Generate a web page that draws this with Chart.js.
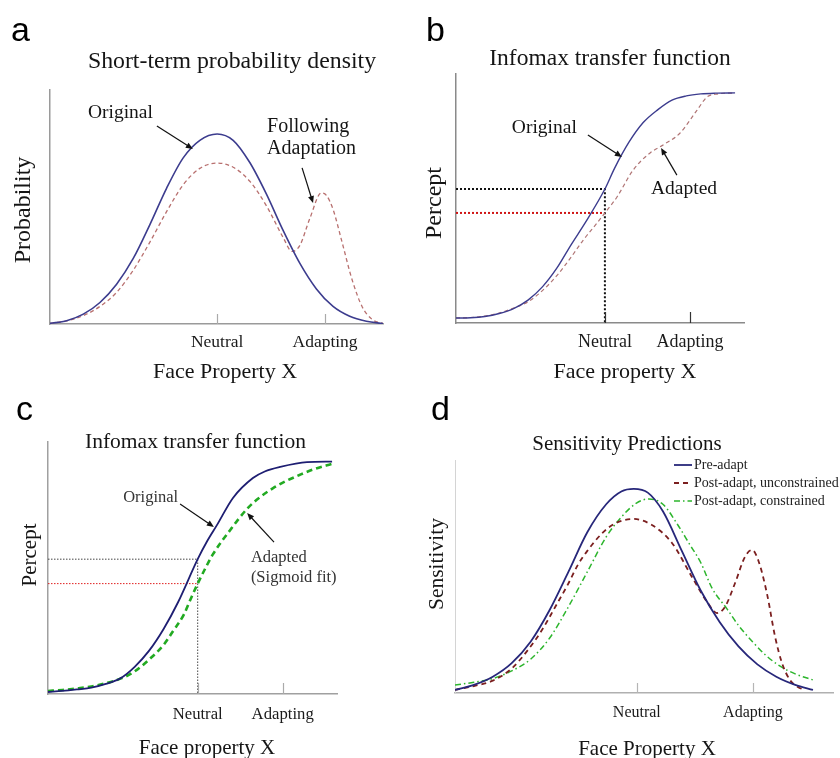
<!DOCTYPE html>
<html><head><meta charset="utf-8">
<script src="https://cdn.jsdelivr.net/npm/chart.js@4.4.1/dist/chart.umd.min.js"></script>
<style>
html,body{margin:0;padding:0;background:#fff;}
#wrap{position:relative;width:840px;height:758px;overflow:hidden;background:#fff;}
canvas{position:absolute;}
</style></head><body>
<div id="wrap">
<canvas id="pa" style="left:0;top:0" width="420" height="400"></canvas>
<canvas id="pb" style="left:420px;top:0" width="420" height="400"></canvas>
<canvas id="pc" style="left:0;top:380px" width="420" height="378"></canvas>
<canvas id="pd" style="left:420px;top:380px" width="420" height="378"></canvas>
</div>
<script>
// ---------- tick labels ----------
const tickNames = ['Neutral', 'Adapting'];

// ---------- panel a : short-term probability density ----------
const aTicks = [50.2, 82.6];
const aOriginalX = [0,5,10,15,20,25,30,35,40,45,50.2,55,60,65,70,75,80,85,90,95,100];
const aOriginalY = [0.3,1.4,4.2,9.2,17,28,42.5,58,71,78.5,81.2,78.5,69,55.5,40,26,15,7.5,3.3,1.2,0.2];
const aAdaptedX = [0,5,10,15,20,25,30,35,40,45,50.2,55,60,65,70,72.7,75,78,81.5,83,85,87.7,90.7,93.7,96.7,100];
const aAdaptedY = [0.3,1.3,3.6,7.5,13.5,23,35,48,59.5,66.5,68.8,67,61,50.5,37,31,33.5,45,56,55,49,35,19,7.5,2,0.2];

// ---------- panel b : infomax transfer function ----------
const bTicks = [51.7, 81.25];
const bOriginalX = [0,5,10,15,20,25,30,35,40,45,51.7,55,60,65,70,75,80,85,90,96.9];
const bOriginalY = [2,2.1,2.6,3.8,5.8,9.2,14.5,22,31.5,40.5,53.8,62,72.5,80.5,85.6,89.5,91.2,92,92.3,92.4];
const bAdaptedX = [0,5,10,15,20,25,30,35,40,44,49,51.7,55.9,61.5,67.4,71.9,77.8,83.7,87.2,91,96.9];
const bAdaptedY = [2,2.2,2.8,4,6,8.5,13,19,26.5,33,40.2,44.2,50.6,61.4,68.3,71.5,76.3,85.5,90.8,92,92.4];
const bNeutralPercept = [53.8, 44.2]; // original, adapted

// ---------- panel c : infomax transfer function (sigmoid fit) ----------
const cTicks = [51.8, 81.2];
const cOriginalX = [0,5,10,15,20,25,30,35,40,45,51.8,55,58.5,64,70.9,75,80.3,89.6,98.3];
const cOriginalY = [0.8,1.2,1.8,2.5,4,6.2,10.8,17.2,25.8,36.4,53.5,60.5,67.1,77.8,85.7,88.3,90.1,92,92.2];
const cAdaptedX = [0,5,10,15,20,26,30,35.3,40,43.3,47,49.1,51.8,54.5,57.1,63,68.9,73,77.9,82,87.2,92,98.3];
const cAdaptedY = [1.2,1.6,2.2,3,4.3,6.5,9,14,19.5,25,31.5,37,43.8,50,55.5,65,73.5,77.8,81.7,84.3,87,89.2,91.3];
const cNeutralPercept = [53.5, 43.8];

// ---------- panel d : sensitivity predictions ----------
const dTicks = [48.1, 78.8];
const dSeriesNames = ['Pre-adapt', 'Post-adapt, unconstrained', 'Post-adapt, constrained'];
const dPreX = [0,5,10,15,20,25,30,35,40,44,47.3,51,55,60,65,70,75,80,85,90,94.7];
const dPreY = [1.3,3.5,7,12.8,22,35.5,52,69,81,86.5,87.6,86,78,61,44,30.5,20,12.3,7,3.5,1.3];
const dUnconX = [0,5,10,15,19.3,23,26.5,30,32.5,35,38.9,42,47.1,52.1,57.4,62.7,66.9,69.3,71.4,74.1,76.7,78.6,80.2,82.5,84.7,86.5,88.6,90.7,92.5];
const dUnconY = [1.3,3,5.3,10.5,18.5,27,36.9,47,55,61,68.5,72.5,74.7,72.1,64.4,49.8,38.6,34.3,36.9,47.2,58.4,61.4,57.1,42.9,24,12.9,5.6,2.6,1.3];
const dConX = [0,5,10,15,20,25,30,35,40,44,48,51.3,55,59,62,65,68,72,75,79,82,86,90,94.7];
const dConY = [3.4,4.6,6.2,9.5,14.5,23.5,37,52,67,75.5,81.5,83.3,81,72,64,56,45,36,29,21.5,16.5,11.5,8.2,5.6];

// ---------- helpers ----------
const SERIF = '"Liberation Serif", "Times New Roman", serif';
const SANS = '"Liberation Sans", Arial, sans-serif';
const pts = (xs, ys) => xs.map((x, i) => ({x: x, y: ys[i]}));
const curve = (xs, ys, color, width, dash) => ({
  data: pts(xs, ys), borderColor: color, borderWidth: width, borderDash: dash || [],
  cubicInterpolationMode: 'monotone', pointRadius: 0, fill: false
});
const guide = (points, color, width, dash) => ({
  data: points, borderColor: color, borderWidth: width, borderDash: dash, tension: 0, pointRadius: 0, fill: false
});

const decor = {
  id: 'decor',
  afterDatasetsDraw(chart, args, o) {
    const ctx = chart.ctx, xs = chart.scales.x, ys = chart.scales.y, ca = chart.chartArea;
    const P = (x, y) => [xs.getPixelForValue(x), ys.getPixelForValue(y)];
    ctx.save();
    if (o.tickLen) {
      ctx.strokeStyle = o.tickColor; ctx.lineWidth = 1.2;
      xs.ticks.forEach(t => {
        const px = Math.round(xs.getPixelForValue(t.value)) + 0.5;
        ctx.beginPath(); ctx.moveTo(px, ca.bottom); ctx.lineTo(px, ca.bottom - o.tickLen); ctx.stroke();
      });
    }
    (o.arrows || []).forEach(a => {
      const [x1, y1] = P(a.from[0], a.from[1]);
      const [x2, y2] = P(a.to[0], a.to[1]);
      ctx.strokeStyle = '#111'; ctx.fillStyle = '#111'; ctx.lineWidth = 1.2;
      const ang = Math.atan2(y2 - y1, x2 - x1), L = 7, W = 3;
      ctx.beginPath(); ctx.moveTo(x1, y1); ctx.lineTo(x2 - 4 * Math.cos(ang), y2 - 4 * Math.sin(ang)); ctx.stroke();
      ctx.beginPath(); ctx.moveTo(x2, y2);
      ctx.lineTo(x2 - L * Math.cos(ang) + W * Math.sin(ang), y2 - L * Math.sin(ang) - W * Math.cos(ang));
      ctx.lineTo(x2 - L * Math.cos(ang) - W * Math.sin(ang), y2 - L * Math.sin(ang) + W * Math.cos(ang));
      ctx.closePath(); ctx.fill();
    });
    (o.texts || []).forEach(t => {
      let x = t.x, y = t.y;
      if (t.data) [x, y] = P(t.x, t.y);
      ctx.save(); ctx.translate(x, y); if (t.rot) ctx.rotate(t.rot);
      ctx.font = t.font; ctx.fillStyle = t.color || '#151515';
      ctx.textAlign = t.align || 'left'; ctx.textBaseline = t.base || 'alphabetic';
      ctx.fillText(t.text, 0, 0); ctx.restore();
    });
    if (o.legend) {
      const lg = o.legend;
      o.legend.items.forEach((idx, i) => {
        const ds = chart.data.datasets[idx];
        const y = lg.y + i * lg.step;
        ctx.strokeStyle = ds.borderColor; ctx.lineWidth = ds.borderWidth;
        ctx.setLineDash(ds.borderDash || []);
        ctx.beginPath(); ctx.moveTo(lg.x, y); ctx.lineTo(lg.x + lg.len, y); ctx.stroke();
        ctx.setLineDash([]);
        ctx.font = lg.font; ctx.fillStyle = '#222'; ctx.textAlign = 'left'; ctx.textBaseline = 'middle';
        ctx.fillText(ds.label, lg.x + lg.len + 2, y);
      });
    }
    ctx.restore();
  }
};

function makePanel(id, cfg) {
  return new Chart(document.getElementById(id), {
    type: 'line',
    data: { datasets: cfg.datasets },
    options: {
      responsive: false, devicePixelRatio: 1, animation: false, events: [],
      layout: { padding: cfg.pad },
      plugins: { legend: { display: false }, tooltip: { enabled: false }, title: { display: false }, decor: cfg.decor },
      scales: {
        x: {
          type: 'linear', min: 0, max: 100,
          afterFit: s => { s.height = cfg.xh; },
          afterBuildTicks: s => { s.ticks = cfg.ticks.map(v => ({value: v})); },
          grid: { display: false, drawTicks: false },
          border: { display: true, color: cfg.axisColor, width: 1.5 },
          ticks: { autoSkip: false, maxRotation: 0, padding: cfg.tickPad, color: '#1a1a1a',
                   font: { family: SERIF, size: cfg.tickSize }, callback: (v, i) => tickNames[i] }
        },
        y: {
          type: 'linear', min: 0, max: 100,
          afterFit: s => { s.width = 10; },
          grid: { display: false, drawTicks: false },
          border: { display: true, color: cfg.yAxisColor || cfg.axisColor, width: cfg.yAxisWidth || 1.5 },
          ticks: { display: false }
        }
      }
    },
    plugins: [decor]
  });
}

// ---------- panel a ----------
makePanel('pa', {
  pad: { left: 40, top: 90, right: 37, bottom: 0 }, xh: 76, ticks: aTicks, tickPad: 7.5, tickSize: 17.5,
  axisColor: '#9a9a9a',
  datasets: [
    curve(aOriginalX, aOriginalY, '#3c3c8e', 1.6),
    curve(aAdaptedX, aAdaptedY, '#b8706f', 1.3, [4, 3])
  ],
  decor: {
    tickLen: 10, tickColor: '#aaa',
    arrows: [ {from: [32.1, 84.6], to: [42.9, 74.8]}, {from: [75.7, 66.7], to: [79, 51.7]} ],
    texts: [
      {text: 'a', x: 11, y: 41, font: '34px ' + SANS, color: '#000'},
      {text: 'Short-term probability density', x: 232, y: 68, align: 'center', font: '23.8px ' + SERIF},
      {text: 'Probability', x: 24, y: 210, rot: -Math.PI / 2, align: 'center', base: 'middle', font: '24px ' + SERIF},
      {text: 'Face Property X', x: 225, y: 378, align: 'center', font: '22px ' + SERIF},
      {text: 'Original', x: 11.4, y: 88, data: true, font: '19.5px ' + SERIF},
      {text: 'Following', x: 65.2, y: 82.1, data: true, font: '20px ' + SERIF},
      {text: 'Adaptation', x: 65.2, y: 72.6, data: true, font: '20px ' + SERIF}
    ]
  }
});

// ---------- panel b ----------
makePanel('pb', {
  pad: { left: 26, top: 74, right: 96, bottom: 0 }, xh: 77, ticks: bTicks, tickPad: 8, tickSize: 18,
  axisColor: '#8a8a8a',
  datasets: [
    curve(bOriginalX, bOriginalY, '#3c3c8e', 1.4),
    curve(bAdaptedX, bAdaptedY, '#b07575', 1.2, [4, 3]),
    guide([{x: 0, y: bNeutralPercept[0]}, {x: bTicks[0], y: bNeutralPercept[0]}, {x: bTicks[0], y: 0}], '#111', 2, [2, 2]),
    guide([{x: 0, y: bNeutralPercept[1]}, {x: bTicks[0], y: bNeutralPercept[1]}], '#d01515', 2, [2, 2])
  ],
  decor: {
    tickLen: 11, tickColor: '#333',
    arrows: [ {from: [45.8, 75.5], to: [57.6, 66.7]}, {from: [76.7, 59.4], to: [71.2, 70.3]} ],
    texts: [
      {text: 'b', x: 6, y: 41, font: '34px ' + SANS, color: '#000'},
      {text: 'Infomax transfer function', x: 190, y: 65, align: 'center', font: '23.5px ' + SERIF},
      {text: 'Percept', x: 15, y: 203, rot: -Math.PI / 2, align: 'center', base: 'middle', font: '24px ' + SERIF},
      {text: 'Face property X', x: 205, y: 378, align: 'center', font: '22px ' + SERIF},
      {text: 'Original', x: 19.4, y: 76.3, data: true, font: '19.5px ' + SERIF},
      {text: 'Adapted', x: 67.7, y: 51.8, data: true, font: '19.5px ' + SERIF}
    ]
  }
});

// ---------- panel c ----------
makePanel('pc', {
  pad: { left: 38, top: 62, right: 83, bottom: 0 }, xh: 64, ticks: cTicks, tickPad: 11, tickSize: 16.7,
  axisColor: '#a0a0a0',
  datasets: [
    curve(cOriginalX, cOriginalY, '#1e1e72', 1.8),
    curve(cAdaptedX, cAdaptedY, '#22aa22', 2.6, [6, 4]),
    guide([{x: 0, y: cNeutralPercept[0]}, {x: cTicks[0], y: cNeutralPercept[0]}, {x: cTicks[0], y: 0}], '#444', 1, [1.5, 1.5]),
    guide([{x: 0, y: cNeutralPercept[1]}, {x: cTicks[0], y: cNeutralPercept[1]}], '#e02020', 1, [1.5, 1.5])
  ],
  decor: {
    tickLen: 11, tickColor: '#aaa',
    arrows: [ {from: [45.7, 75.4], to: [57.4, 66.3]}, {from: [78.2, 60.3], to: [68.9, 71.8]} ],
    texts: [
      {text: 'c', x: 16, y: 40, font: '34px ' + SANS, color: '#000'},
      {text: 'Infomax transfer function', x: 195.5, y: 68, align: 'center', font: '21.5px ' + SERIF},
      {text: 'Percept', x: 30, y: 175, rot: -Math.PI / 2, align: 'center', base: 'middle', font: '21px ' + SERIF},
      {text: 'Face property X', x: 207, y: 374, align: 'center', font: '21px ' + SERIF},
      {text: 'Original', x: 26, y: 76.2, data: true, font: '16.5px ' + SERIF, color: '#333'},
      {text: 'Adapted', x: 70.2, y: 52.4, data: true, font: '16.5px ' + SERIF, color: '#333'},
      {text: '(Sigmoid fit)', x: 70.2, y: 44.4, data: true, font: '16.5px ' + SERIF, color: '#333'}
    ]
  }
});

// ---------- panel d ----------
const dPre = curve(dPreX, dPreY, '#27277a', 1.8); dPre.label = dSeriesNames[0];
const dUncon = curve(dUnconX, dUnconY, '#7b1f1f', 1.8, [5, 4]); dUncon.label = dSeriesNames[1];
const dCon = curve(dConX, dConY, '#2db52d', 1.5, [6, 3, 1.5, 3]); dCon.label = dSeriesNames[2];
makePanel('pd', {
  pad: { left: 25, top: 80, right: 7, bottom: 0 }, xh: 65, ticks: dTicks, tickPad: 10.4, tickSize: 16,
  axisColor: '#b0b0b0', yAxisColor: '#d4d4d4', yAxisWidth: 1,
  datasets: [dPre, dUncon, dCon],
  decor: {
    tickLen: 10, tickColor: '#b5b5b5',
    legend: { x: 254, y: 85, step: 18, len: 18, font: '14px ' + SERIF, items: [0, 1, 2] },
    texts: [
      {text: 'd', x: 11, y: 40, font: '34px ' + SANS, color: '#000'},
      {text: 'Sensitivity Predictions', x: 207, y: 70, align: 'center', font: '21px ' + SERIF},
      {text: 'Sensitivity', x: 17.5, y: 184, rot: -Math.PI / 2, align: 'center', base: 'middle', font: '21.5px ' + SERIF},
      {text: 'Face Property X', x: 227, y: 375, align: 'center', font: '21px ' + SERIF}
    ]
  }
});
</script>
</body></html>
